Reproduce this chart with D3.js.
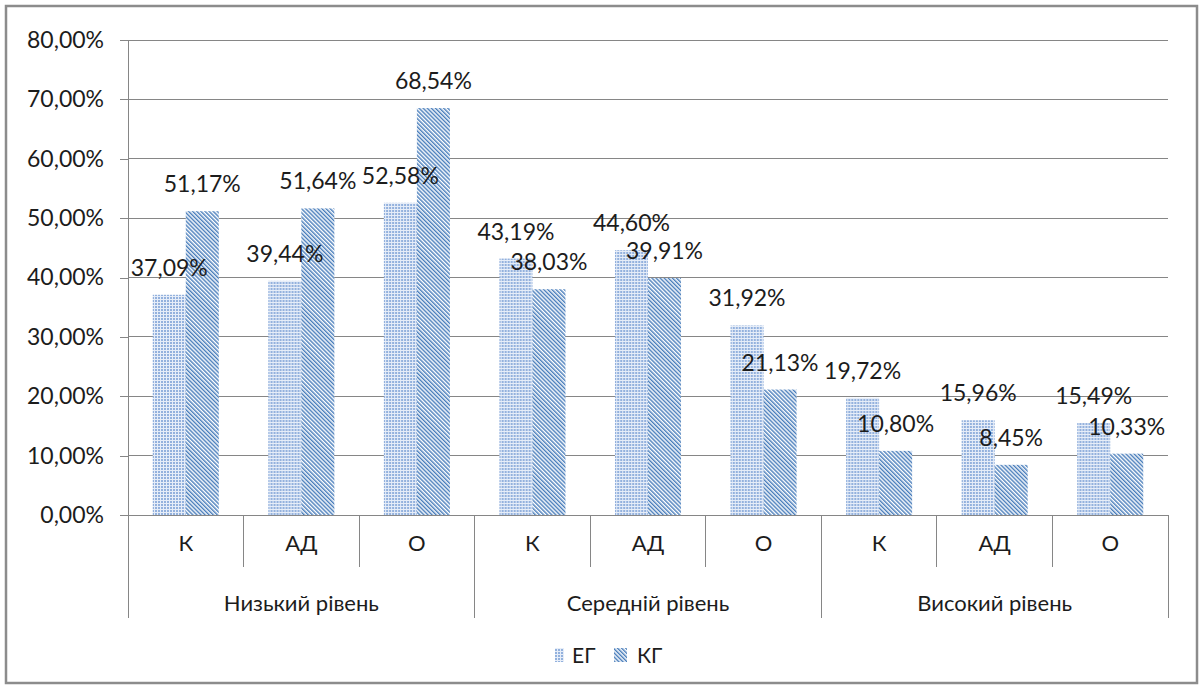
<!DOCTYPE html>
<html>
<head>
<meta charset="utf-8">
<script src="https://cdn.jsdelivr.net/npm/d3@7"></script>
<style>
  html, body { margin: 0; padding: 0; background: #fff; }
  svg { display: block; font-family: Lato, "Open Sans", sans-serif; }
</style>
</head>
<body>
<svg id="chart" width="1203" height="690"></svg>
<script>
// Levels and the indicators measured within each level
const levels = ["Низький рівень", "Середній рівень", "Високий рівень"];
const indicators = ["К", "АД", "О"];
const seriesNames = ["ЕГ", "КГ"];

// Percentages per level × indicator, in level order
const egValues = [37.09, 39.44, 52.58, 43.19, 44.60, 31.92, 19.72, 15.96, 15.49];
const kgValues = [51.17, 51.64, 68.54, 38.03, 39.91, 21.13, 10.80, 8.45, 10.33];

const yTicks = [0, 10, 20, 30, 40, 50, 60, 70, 80];

const fmt = v => v.toFixed(2).replace(".", ",") + "%";

const svg = d3.select("#chart");
const plot = { left: 128, right: 1168, top: 40, bottom: 515 };
const gridColor = "#868686";
const blue = "#4a7ebb";
const textColor = "#1c1c1c";
const fontSize = 23;

// Patterned fills
const defs = svg.append("defs");
const dots = defs.append("pattern")
  .attr("id", "dots").attr("patternUnits", "userSpaceOnUse")
  .attr("width", 3).attr("height", 3);
dots.append("rect").attr("width", 3).attr("height", 3).attr("fill", "#e6edf8");
dots.append("rect").attr("width", 2).attr("height", 2).attr("fill", "#93b1dd");

const stripes = defs.append("pattern")
  .attr("id", "stripes").attr("patternUnits", "userSpaceOnUse")
  .attr("width", 2.9).attr("height", 2.9)
  .attr("patternTransform", "rotate(-45)");
stripes.append("rect").attr("width", 2.9).attr("height", 2.9).attr("fill", "#ffffff");
stripes.append("rect").attr("width", 1.45).attr("height", 2.9).attr("fill", blue);

const fills = { "ЕГ": "url(#dots)", "КГ": "url(#stripes)" };

// Outer frame
svg.append("rect")
  .attr("x", 6).attr("y", 6).attr("width", 1191).attr("height", 677)
  .attr("fill", "#fff").attr("stroke", "#8c8c8c").attr("stroke-width", 2.5);

// Rows: one per level × indicator
const rows = [];
levels.forEach((lv, li) => indicators.forEach((ind, ii) => {
  const i = li * indicators.length + ii;
  rows.push({ key: i, level: lv, ind, "ЕГ": egValues[i], "КГ": kgValues[i] });
}));

const x = d3.scaleBand().domain(rows.map(r => r.key))
  .range([plot.left, plot.right]).padding(0);
const xs = d3.scaleBand().domain(seriesNames)
  .range([0, x.bandwidth()]).paddingInner(0).paddingOuter(0.75);
const y = d3.scaleLinear().domain([0, 80]).range([plot.bottom, plot.top]);

// Gridlines
svg.append("g").selectAll("line").data(yTicks.filter(t => t > 0)).join("line")
  .attr("x1", plot.left).attr("x2", plot.right)
  .attr("y1", d => y(d)).attr("y2", d => y(d))
  .attr("stroke", gridColor).attr("stroke-width", 1)
  .attr("shape-rendering", "crispEdges");

// Y axis
const yAxis = svg.append("g")
  .attr("transform", `translate(${plot.left},0)`)
  .call(d3.axisLeft(y).tickValues(yTicks).tickFormat(d => fmt(d)).tickSize(8).tickPadding(16));
yAxis.select(".domain").attr("stroke", gridColor).attr("shape-rendering", "crispEdges");
yAxis.selectAll(".tick line").attr("stroke", gridColor).attr("shape-rendering", "crispEdges");
yAxis.selectAll("text").attr("font-size", fontSize).attr("fill", textColor)
  .attr("font-family", "Lato, sans-serif");

// Bars
const groups = svg.append("g").selectAll("g").data(rows).join("g")
  .attr("transform", d => `translate(${x(d.key)},0)`);
groups.selectAll("rect").data(d => seriesNames.map(s => ({ s, v: d[s] }))).join("rect")
  .attr("x", d => xs(d.s)).attr("width", xs.bandwidth())
  .attr("y", d => y(d.v)).attr("height", d => y(0) - y(d.v))
  .attr("fill", d => fills[d.s]);

// Value labels
groups.selectAll("text.val").data(d => seriesNames.map(s => ({ s, v: d[s] }))).join("text")
  .attr("class", "val")
  .attr("x", d => xs(d.s) + xs.bandwidth() / 2)
  .attr("y", d => y(d.v) - 19)
  .attr("text-anchor", "middle").attr("font-size", fontSize).attr("fill", textColor)
  .text(d => fmt(d.v));

// Baseline
svg.append("line").attr("x1", plot.left).attr("x2", plot.right)
  .attr("y1", plot.bottom).attr("y2", plot.bottom)
  .attr("stroke", gridColor).attr("shape-rendering", "crispEdges");

// Category separators: short ones between indicators, long ones between levels
const catBottom = 567, lvlBottom = 618;
const sepX = d3.range(rows.length + 1).map(i =>
  i < rows.length ? x(i) : x(rows.length - 1) + x.bandwidth());
svg.append("g").selectAll("line").data(sepX).join("line")
  .attr("x1", d => d).attr("x2", d => d)
  .attr("y1", plot.bottom)
  .attr("y2", (d, i) => i % indicators.length === 0 ? lvlBottom : catBottom)
  .attr("stroke", gridColor).attr("shape-rendering", "crispEdges");

// Indicator labels
svg.append("g").selectAll("text").data(rows).join("text")
  .attr("x", d => x(d.key) + x.bandwidth() / 2).attr("y", 551)
  .attr("text-anchor", "middle").attr("font-size", fontSize - 1).attr("fill", textColor)
  .text(d => d.ind);

// Level labels
svg.append("g").selectAll("text").data(levels).join("text")
  .attr("x", (d, i) => (sepX[i * 3] + sepX[i * 3 + 3]) / 2).attr("y", 611)
  .attr("text-anchor", "middle").attr("font-size", fontSize - 1).attr("fill", textColor)
  .text(d => d);

// Legend
const legend = svg.append("g").attr("transform", "translate(0,655)");
const legItems = [
  { s: "ЕГ", x: 555, w: 9, tx: 572 },
  { s: "КГ", x: 614, w: 13, tx: 637 }
];
legItems.forEach(it => {
  legend.append("rect").attr("x", it.x).attr("y", -7).attr("width", it.w).attr("height", 14)
    .attr("fill", fills[it.s]);
  legend.append("text").attr("x", it.tx).attr("y", 8)
    .attr("font-size", 21).attr("fill", textColor).text(it.s);
});
</script>
</body>
</html>
